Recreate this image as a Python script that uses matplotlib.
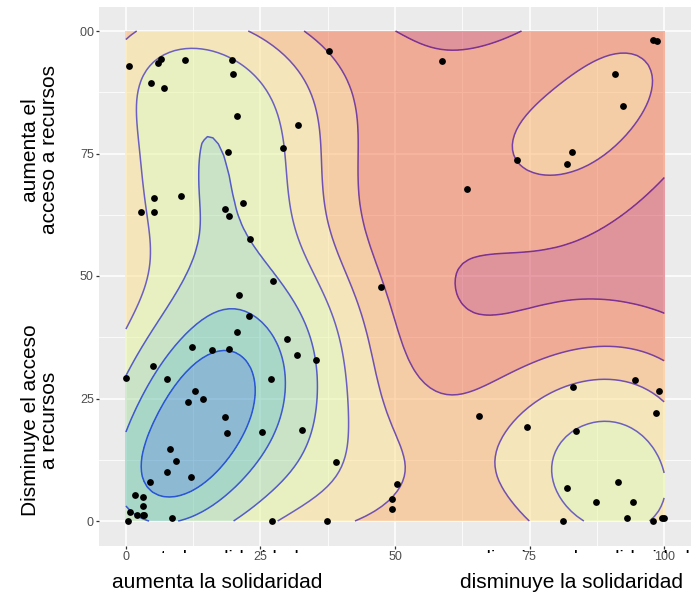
import numpy as np
import matplotlib
matplotlib.use("Agg")
import matplotlib.pyplot as plt
from matplotlib.colors import LinearSegmentedColormap
from matplotlib.patches import Rectangle
from matplotlib.transforms import Bbox

# puntos (solidaridad, acceso a recursos)
solidaridad = [0.6, 5.9, 6.6, 11.0, 19.8, 19.9, 4.6, 7.0, 20.6, 31.9, 29.1, 19.0,
               5.3, 10.2, 2.8, 5.3, 21.7, 18.5, 19.2, 23.1, 27.4, 21.1, 37.8, 58.8,
               47.4, 98.0, 98.7, 90.9, 92.4, 82.8, 81.9, 72.6, 63.3, 22.9, 20.6, 29.9,
               31.7, 35.4, 12.3, 16.0, 19.2, 5.1, 0.1, 7.6, 27.0, 12.9, 14.3, 11.5,
               18.5, 18.8, 25.2, 32.7, 39.0, 8.2, 9.3, 7.7, 12.1, 4.5, 1.7, 3.2,
               3.2, 0.8, 2.0, 3.2, 3.4, 0.3, 8.6, 27.1, 37.3, 94.6, 99.1, 83.0,
               98.5, 65.7, 74.5, 83.6, 50.4, 49.4, 49.4, 91.4, 82.0, 87.3, 94.2, 93.2,
               81.2, 98.0, 99.6, 99.9]
acceso = [92.8, 93.5, 94.2, 94.1, 94.0, 91.2, 89.4, 88.4, 82.7, 80.8, 76.2, 75.4,
          66.0, 66.3, 63.1, 63.1, 64.9, 63.7, 62.3, 57.6, 48.9, 46.2, 95.9, 93.8,
          47.7, 98.2, 97.9, 91.2, 84.6, 75.3, 72.8, 73.7, 67.7, 41.8, 38.6, 37.1,
          33.9, 32.8, 35.5, 35.0, 35.2, 31.6, 29.1, 29.0, 29.0, 26.6, 24.9, 24.2,
          21.2, 17.9, 18.1, 18.6, 12.0, 14.6, 12.2, 10.0, 9.0, 7.9, 5.4, 4.9,
          3.1, 1.8, 1.3, 1.3, 1.3, 0.0, 0.7, 0.0, 0.0, 28.8, 26.5, 27.4,
          22.1, 21.4, 19.1, 18.3, 7.5, 4.4, 2.5, 8.0, 6.7, 3.8, 3.9, 0.7,
          0.0, 0.0, 0.6, 0.6]

contour_marks = [
    [(54.0, 99.9), (63.9, 96.1), (75.1, 100), (100, 71.5), (84.4, 58.6), (67.7, 54.5),
     (62.4, 49.8), (72.0, 45.7), (100, 42.3)],
    [(37.9, 100), (49.7, 79.6), (46.6, 57.9), (49.7, 40.9), (60.2, 28.0), (84.4, 35.5),
     (100, 31.8), (81.0, 79.6), (89.3, 86.1), (84.4, 78.6), (87.5, 86.6)],
    [(24.9, 100), (41.6, 83.1), (39.5, 61.3), (42.9, 40.9), (37.3, 0), (45.4, 5.6),
     (68.0, 13.1), (84.4, 28.0), (100, 22.6), (75.7, 0), (0, 94.9), (5.4, 99.7), (34.2, 94.6)],
    [(23.0, 94.6), (35.1, 79.6), (33.0, 61.3), (37.3, 40.9), (3.8, 75.6), (5.4, 58.6),
     (3.2, 45.0), (6.9, 93.9), (15.6, 95.8), (30.5, 86.4), (0.1, 37.5), (26.1, 0),
     (36.0, 12.4), (41.0, 28.0), (78.5, 12.4), (87.5, 20.2), (100, 9.0), (85.9, 0)],
    [(23.0, 86.4), (28.0, 78.3), (24.9, 61.3), (32.3, 40.9), (10.4, 75.6), (13.4, 57.2),
     (9.1, 45.0), (24.6, 58.6), (30.5, 45.0), (10.7, 82.3), (15.6, 88.1), (0.1, 21.9),
     (12.5, 43.0), (19.3, 0), (28.6, 12.4), (35.4, 26.0)],
    [(17.5, 7.0), (28.6, 17.9), (29.9, 31.4), (21.2, 44.7)],
    [(3.2, 11.8), (24.6, 26.7), (19.3, 35.5), (8.2, 5.6)],
]

band_colors = ["#d53e4f", "#f46d43", "#fdae61", "#fee08b", "#e6f598",
               "#abdda4", "#66c2a5", "#3288bd"]

tick_vals = [0, 25, 50, 75, 100]
tick_labels = ["0", "25", "50", "75", "100"]
minor_vals = [12.5, 37.5, 62.5, 87.5]

bw_adjust = 0.95


def bw_nrd(v):
    q75, q25 = np.percentile(v, [75, 25])
    return 4 * 1.06 * min(np.std(v, ddof=1), (q75 - q25) / 1.34) * len(v) ** (-0.2)


def kde_at(px, py, x, y):
    hx, hy = bw_adjust * bw_nrd(x) / 4, bw_adjust * bw_nrd(y) / 4
    dx = np.exp(-0.5 * ((px[..., None] - x) / hx) ** 2)
    dy = np.exp(-0.5 * ((py[..., None] - y) / hy) ** 2)
    return (dx * dy).sum(-1) / (2 * np.pi * len(x) * hx * hy)


x = np.array(solidaridad)
y = np.array(acceso)
g = np.linspace(0, 100, 100)
GX, GY = np.meshgrid(g, g)
z = kde_at(GX, GY, x, y)

inner = []
for marks in contour_marks:
    m = np.array(marks)
    inner.append(kde_at(m[:, 0], m[:, 1], x, y).mean())
inner = np.sort(np.array(inner))
levels = np.concatenate([[0], inner, [z.max() * 1.01]])

line_cmap = LinearSegmentedColormap.from_list("lin", ["#7b3294", "#6c5fc0", "#2a55d6"])
line_cols = [line_cmap(k / (len(inner) - 1)) for k in range(len(inner))]

fam = ["Liberation Sans", "DejaVu Sans"]

fig = plt.figure(figsize=(6.96, 6.01), dpi=100)
ax = fig.add_axes([99 / 696, 1 - 545.5 / 601, 592 / 696, 539 / 601])
ax.set_facecolor("#EBEBEB")
for s in ax.spines.values():
    s.set_visible(False)

ax.set_axisbelow(True)
ax.set_xticks(tick_vals)
ax.set_xticklabels(tick_labels, family=fam)
ax.set_yticks(tick_vals)
ax.set_yticklabels(tick_labels, family=fam)
ax.set_xticks(minor_vals, minor=True)
ax.set_yticks(minor_vals, minor=True)
ax.grid(which="major", color="white", lw=1.1)
ax.grid(which="minor", color="white", lw=0.55)
ax.tick_params(which="major", length=2.2, width=0.9, color="#333333",
               labelcolor="#4D4D4D", labelsize=9, pad=1.5)
ax.tick_params(which="minor", length=0)

ax.contourf(g, g, z, levels=levels, colors=band_colors, alpha=0.5, zorder=1)
ax.contour(g, g, z, levels=inner, colors=line_cols, linewidths=1.1, zorder=2)
ax.scatter(x, y, s=24, color="black", zorder=3, linewidths=0)

ax.set_xlim(-5, 105)
ax.set_ylim(-5, 105)

# white patch over the left margin (hides the "1" of 100)
fig.patches.append(Rectangle((0, 0), 79.5 / 696, 1, transform=fig.transFigure,
                             facecolor="white", edgecolor="none", zorder=5))

fkw = dict(family=fam, fontsize=15, color="black", zorder=6)
fig.text(40 / 696, 1 - 150 / 601, "aumenta el\nacceso a recursos", rotation=90,
         ha="center", va="center", multialignment="center", linespacing=1.05, **fkw)
fig.text(40 / 696, 1 - 420 / 601, "Disminuye el acceso\na recursos", rotation=90,
         ha="center", va="center", multialignment="center", linespacing=1.05, **fkw)
fig.text(217 / 696, 1 - 583 / 601, "aumenta la solidaridad", ha="center", va="center", **fkw)
fig.text(571 / 696, 1 - 583 / 601, "disminuye la solidaridad", ha="center", va="center", **fkw)

# tops of an older label row peeking out under the tick labels
peek = Bbox([[0, 601 - 553], [696, 601 - 547]])
for txt, cx in [("aumenta la solidaridad", 200), ("disminuye la solidaridad", 585)]:
    t = fig.text(cx / 696, 1 - 563 / 601, txt, ha="center", va="baseline",
                 family=fam, fontsize=14, color="black", zorder=4)
    t.set_clip_box(peek)
    t.set_clip_on(True)

fig.savefig("out.png", dpi=100)
